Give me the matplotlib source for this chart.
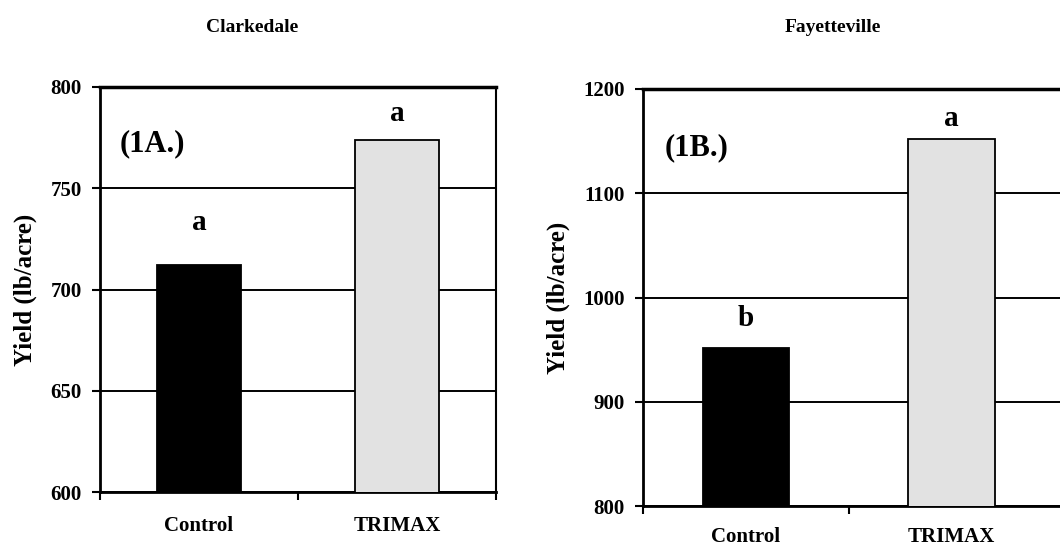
import matplotlib
matplotlib.use("Agg")
import matplotlib.pyplot as plt

# data
treatments = ["Control", "TRIMAX"]
clarkedale_yield = [712, 774]
fayetteville_yield = [952, 1152]
clarkedale_letters = ["a", "a"]
fayetteville_letters = ["b", "a"]
# y positions (data units) of the significance letters
clarkedale_letter_y = [733, 787]
fayetteville_letter_y = [980, 1172]

plt.rcParams['font.family'] = ['Liberation Serif', 'DejaVu Serif']
plt.rcParams['font.weight'] = 'bold'

fig = plt.figure(figsize=(10.6, 5.49), dpi=100)

bar_colors = ["black", "#e2e2e2"]


def panel(rect, vals, letters, letter_y, ylim, yticks, tag, title, title_x, title_y,
          right_pad, edge_ticks, xlab_pad):
    ax = fig.add_axes(rect)
    x = list(range(len(treatments)))
    ax.bar(x, vals, width=0.42, color=bar_colors, edgecolor="black",
           linewidth=1.3, zorder=3)
    ax.set_xlim(-0.5, 1.5 + right_pad)
    ax.set_ylim(*ylim)
    ax.set_yticks(yticks)
    ax.set_yticklabels([str(t) for t in yticks], fontsize=15, fontweight='bold')
    ax.yaxis.grid(True, color="black", linewidth=1.4, zorder=1)
    ax.set_axisbelow(True)

    # category ticks at the boundaries, labels at the centres
    ax.set_xticks(edge_ticks)
    ax.set_xticklabels([])
    ax.set_xticks(x, minor=True)
    ax.set_xticklabels(treatments, minor=True, fontsize=15, fontweight='bold')
    ax.tick_params(axis='x', which='minor', length=0, pad=xlab_pad)
    ax.tick_params(axis='x', which='major', length=6, width=1.5, direction='out')
    ax.tick_params(axis='y', length=6, width=1.5, direction='out', pad=7)

    ax.set_ylabel("Yield (lb/acre)", fontsize=18, fontweight='bold', labelpad=10)

    ax.spines['left'].set_linewidth(2)
    ax.spines['bottom'].set_linewidth(2)
    ax.spines['top'].set_linewidth(2.5)
    ax.spines['right'].set_linewidth(1.5)

    for xi, lab, ly in zip(x, letters, letter_y):
        ax.text(xi, ly, lab, ha='center', va='center', fontsize=21, fontweight='bold')

    ax.text(0.05, 0.86, tag, transform=ax.transAxes, ha='left', va='center',
            fontsize=22, fontweight='bold')
    fig.text(title_x, title_y, title, ha='center', va='center',
             fontsize=14, fontweight='bold')
    return ax


panel([100 / 1060, 1 - 492 / 549, 396 / 1060, 405 / 549],
      clarkedale_yield, clarkedale_letters, clarkedale_letter_y,
      (600, 800), [600, 650, 700, 750, 800], "(1A.)",
      "Clarkedale", 252 / 1060, 1 - 27 / 549, 0.0, [-0.5, 0.5, 1.5], 17)

panel([643 / 1060, 1 - 506 / 549, 428 / 1060, 417 / 549],
      fayetteville_yield, fayetteville_letters, fayetteville_letter_y,
      (800, 1200), [800, 900, 1000, 1100, 1200], "(1B.)",
      "Fayetteville", 833 / 1060, 1 - 28 / 549, 0.08, [-0.5, 0.5], 15)

fig.savefig("out.png", dpi=100)
